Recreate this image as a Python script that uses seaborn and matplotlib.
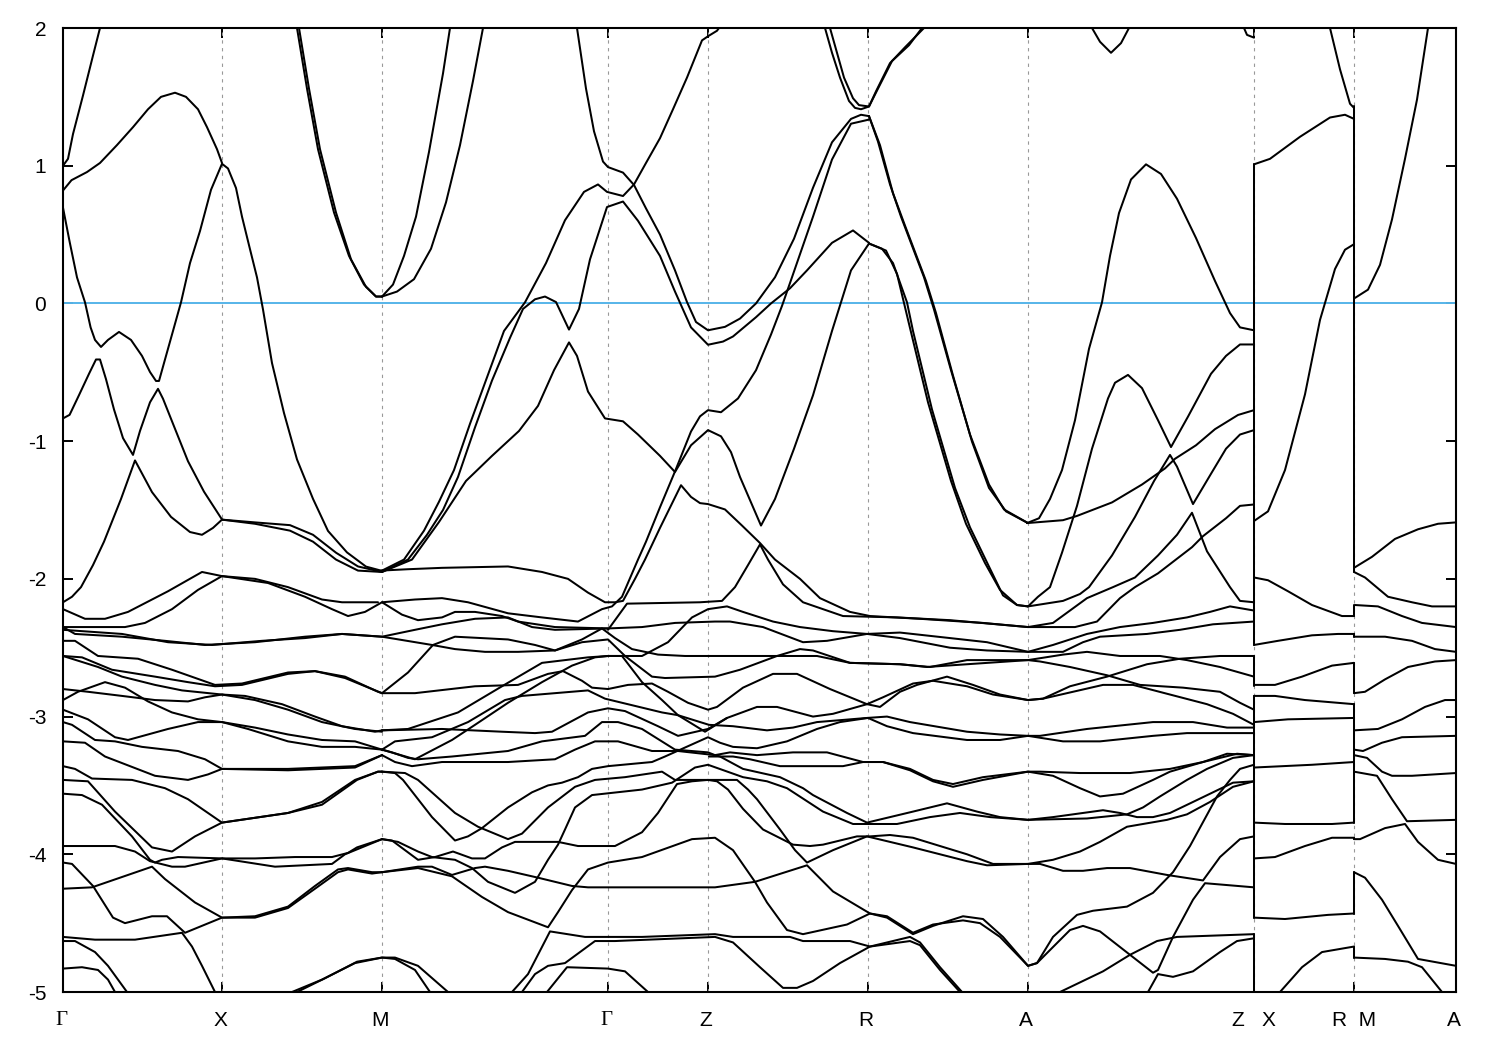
#!/usr/bin/env python
# band structure along Gamma-X-M-Gamma-Z-R-A-Z | X-R | M-A, energies

import pandas as pd
import seaborn as sns
import matplotlib.pyplot as plt
from matplotlib.transforms import ScaledTranslation

# high symmetry points on the k path
sym_k = [0, 1.59, 3.19, 5.45, 6.45, 8.05, 9.65, 11.91, 12.91, 13.93]
sym_labels = ['\u0393', 'X', 'M', '\u0393', 'Z', 'R', 'A', 'Z   X', 'R  M', 'A']
y_ticks = [2, 1, 0, -1, -2, -3, -4, -5]

# vertical jumps where the path is cut (Z|X and R|M)
zx_top = [1.01, -2.56, -2.85, -4.58]
zx_low = [-2.48, -2.78, -4.46, -5.0]
rm_top = [1.43, -2.19, -2.40, -2.61, -2.91, -3.88, -4.13, -4.67]
rm_low = [-1.95, -2.27, -2.42, -2.83, -3.77, -3.89, -4.43, -4.75]

# bands above the Fermi level and the steep ones
k01 = [0, .05, .10, .20, .30, .37]
e01 = [1.0, 1.05, 1.23, 1.51, 1.80, 2.0]
k02 = [0, .085, .24, .37, .54, .70, .85, .98, 1.12, 1.23, 1.35, 1.44, 1.54, 1.59]
e02 = [.82, .895, .954, 1.02, 1.15, 1.28, 1.41, 1.50, 1.53, 1.50, 1.41, 1.28, 1.12, 1.02]
k03 = [0, .066, .14, .22, .276, .32, .38, .45, .56, .68, .79, .87, .93, .96, 1.02, 1.10, 1.18, 1.27, 1.37, 1.48, 1.59, 1.65, 1.73, 1.79, 1.86, 1.94, 2.0, 2.09, 2.21, 2.34, 2.50, 2.65, 2.84, 3.03, 3.19]
e03 = [.695, .449, .189, .008, -.174, -.265, -.316, -.265, -.207, -.265, -.381, -.498, -.563, -.563, -.407, -.20, .008, .293, .526, .825, 1.014, .98, .838, .63, .423, .189, -.044, -.433, -.796, -1.133, -1.419, -1.652, -1.808, -1.911, -1.942]
k04 = [0, .066, .16, .26, .33, .37, .43, .51, .60, .70, .77, .87, .95, 1.00, 1.10, 1.25, 1.41, 1.59]
e04 = [-.835, -.809, -.666, -.511, -.407, -.407, -.55, -.77, -.978, -1.10, -.926, -.718, -.62, -.692, -.874, -1.146, -1.367, -1.569]
k05 = [0, .09, .18, .30, .41, .58, .72, .89, 1.08, 1.27, 1.39, 1.50, 1.59]
e05 = [-2.17, -2.13, -2.06, -1.90, -1.73, -1.42, -1.14, -1.37, -1.55, -1.66, -1.68, -1.63, -1.57]
k06 = [1.59, 1.92, 2.27, 2.50, 2.73, 2.95, 3.19]
e06 = [-1.57, -1.59, -1.61, -1.68, -1.81, -1.91, -1.95]
k07 = [1.59, 1.92, 2.27, 2.50, 2.73, 2.95, 3.19]
e07 = [-1.57, -1.60, -1.65, -1.73, -1.86, -1.94, -1.95]
k08 = [2.36, 2.46, 2.57, 2.73, 2.88, 3.03, 3.13, 3.19]
e08 = [2.0, 1.56, 1.12, .66, .32, .12, .05, .05]
k09 = [2.34, 2.44, 2.55, 2.71, 2.86, 3.01, 3.13, 3.19]
e09 = [2.0, 1.56, 1.12, .66, .345, .137, .05, .05]
k10 = [3.19, 3.30, 3.41, 3.53, 3.66, 3.80, 3.87]
e10 = [.05, .137, .345, .63, 1.10, 1.67, 2.0]
k11 = [3.19, 3.34, 3.51, 3.68, 3.83, 3.97, 4.10, 4.20]
e11 = [.05, .086, .176, .397, .734, 1.149, 1.616, 2.0]
k12 = [3.19, 3.45, 3.64, 3.80, 3.95, 4.12, 4.29, 4.47, 4.60, 4.72, 4.82, 4.93, 5.06, 5.16, 5.27, 5.44, 5.60, 5.75, 5.97, 6.12, 6.28, 6.45, 6.60, 6.70, 6.93, 7.08, 7.27, 7.44, 7.69, 7.90, 8.06]
e12 = [-1.95, -1.86, -1.68, -1.50, -1.26, -.90, -.56, -.25, -.04, .03, .05, .01, -.19, -.04, .32, .70, .74, .60, .345, .086, -.174, -.30, -.277, -.24, -.10, 0, .11, .24, .44, .53, .44]
k13 = [3.19, 3.41, 3.61, 3.76, 3.91, 4.07, 4.24, 4.41, 4.62, 4.83, 5.02, 5.21, 5.35, 5.44, 5.60, 5.71, 5.83, 5.97, 6.10, 6.24, 6.39, 6.45, 6.54, 6.56]
e13 = [-1.94, -1.86, -1.65, -1.44, -1.21, -.874, -.537, -.20, .008, .293, .604, .81, .864, .81, .78, .864, 1.02, 1.20, 1.41, 1.64, 1.91, 1.94, 1.98, 2.0]
k14 = [3.19, 3.49, 3.76, 4.03, 4.29, 4.56, 4.75, 4.91, 5.06, 5.14, 5.25, 5.42, 5.60, 5.75, 5.97, 6.12, 6.28, 6.45, 6.58, 6.68, 6.77, 6.98, 7.12, 7.31, 7.50, 7.69, 7.88, 8.06]
e14 = [-1.95, -1.86, -1.587, -1.289, -1.107, -.926, -.744, -.485, -.283, -.381, -.64, -.835, -.856, -.952, -1.107, -1.224, -1.03, -.92, -.965, -1.08, -1.26, -1.613, -1.42, -1.055, -.667, -.20, .24, .435]
k15 = [5.14, 5.23, 5.31, 5.40, 5.45, 5.60, 5.71, 5.83, 5.97, 6.12, 6.24, 6.33, 6.45, 6.62, 6.77, 6.93, 7.12, 7.31, 7.50, 7.69, 7.88, 7.98, 8.06]
e15 = [2.0, 1.56, 1.25, 1.03, .99, .95, .86, .69, .50, .24, .01, -.135, -.195, -.17, -.11, 0, .19, .47, .84, 1.17, 1.34, 1.37, 1.36]
k16 = [3.18, 3.45, 3.79, 4.45, 4.79, 5.05, 5.25, 5.42, 5.52, 5.60, 5.72, 5.82, 5.97, 6.18, 6.28, 6.37, 6.45, 6.62, 6.79, 6.97, 7.12, 7.37, 7.57, 7.87, 8.07, 8.57, 9.20, 9.65, 10.0, 10.12, 10.34, 10.57, 10.72, 10.95, 11.29, 11.40, 11.63, 11.77, 11.91]
e16 = [-1.94, -1.93, -1.92, -1.91, -1.95, -2.0, -2.10, -2.17, -2.17, -2.16, -2.0, -1.86, -1.63, -1.32, -1.405, -1.45, -1.457, -1.496, -1.613, -1.74, -1.86, -2.0, -2.14, -2.24, -2.27, -2.29, -2.32, -2.35, -2.35, -2.35, -2.31, -2.14, -2.06, -1.96, -1.77, -1.69, -1.56, -1.47, -1.46]
k17 = [3.19, 3.52, 3.79, 4.05, 4.45, 4.79, 5.15, 5.39, 5.49, 5.59, 5.75, 5.83, 5.97, 6.12, 6.28, 6.37, 6.45, 6.58, 6.75, 6.93, 7.08, 7.19, 7.29, 7.50, 7.69, 7.88, 8.06]
e17 = [-2.17, -2.15, -2.14, -2.17, -2.25, -2.28, -2.31, -2.22, -2.20, -2.13, -1.86, -1.73, -1.48, -1.22, -.93, -.82, -.775, -.79, -.69, -.485, -.226, -.018, .19, .63, 1.045, 1.305, 1.335]
k18 = [5.45, 5.64, 6.37, 6.59, 6.72, 6.85, 6.97, 7.05, 7.20, 7.40, 7.80, 8.34, 8.87, 9.65, 9.90, 10.24, 10.5, 10.72, 10.95, 11.14, 11.29, 11.44, 11.67, 11.77, 11.91]
e18 = [-2.37, -2.18, -2.17, -2.16, -2.06, -1.90, -1.75, -1.86, -2.04, -2.17, -2.27, -2.28, -2.30, -2.35, -2.32, -2.14, -2.06, -1.99, -1.83, -1.68, -1.52, -1.80, -2.06, -2.16, -2.17]
k19 = [8.06, 8.15, 8.27, 8.38, 8.61, 8.71, 8.88, 9.07, 9.26, 9.41, 9.65]
e19 = [1.36, 1.175, .864, .63, .19, -.044, -.485, -.952, -1.315, -1.496, -1.595]
k20 = [8.06, 8.17, 8.30, 8.42, 8.63, 8.73, 8.90, 9.09, 9.26, 9.43, 9.65]
e20 = [1.36, 1.149, .80, .565, .163, -.07, -.524, -1.004, -1.34, -1.51, -1.595]
k21 = [8.06, 8.23, 8.34, 8.46, 8.65, 8.88, 9.03, 9.22, 9.37, 9.54, 9.65]
e21 = [.435, .384, .215, -.148, -.718, -1.289, -1.60, -1.885, -2.08, -2.19, -2.20]
k22 = [8.06, 8.19, 8.30, 8.44, 8.50, 8.69, 8.92, 9.07, 9.26, 9.40, 9.54, 9.65]
e22 = [.435, .397, .293, .008, -.20, -.77, -1.34, -1.626, -1.911, -2.12, -2.19, -2.20]
k23 = [9.64, 9.76, 9.87, 9.99, 10.12, 10.26, 10.39, 10.47, 10.56, 10.68, 10.83, 10.98, 11.14, 11.33, 11.52, 11.67, 11.77, 11.91]
e23 = [-1.595, -1.56, -1.42, -1.21, -.848, -.33, .008, .345, .656, .90, 1.01, .94, .76, .475, .163, -.07, -.174, -.195]
k24 = [9.64, 10.0, 10.14, 10.49, 10.79, 11.02, 11.12, 11.33, 11.52, 11.75, 11.91]
e24 = [-1.595, -1.574, -1.543, -1.445, -1.315, -1.198, -1.128, -1.03, -.913, -.81, -.775]
k25 = [9.65, 9.75, 9.87, 9.99, 10.14, 10.29, 10.45, 10.52, 10.65, 10.79, 10.95, 11.08, 11.25, 11.48, 11.63, 11.77, 11.91]
e25 = [-2.20, -2.13, -2.06, -1.81, -1.47, -1.055, -.69, -.576, -.519, -.615, -.848, -1.043, -.822, -.511, -.381, -.298, -.298]
k26 = [9.65, 10.0, 10.17, 10.26, 10.49, 10.72, 10.91, 11.07, 11.14, 11.30, 11.48, 11.63, 11.77, 11.91]
e26 = [-2.20, -2.16, -2.11, -2.06, -1.83, -1.55, -1.29, -1.10, -1.185, -1.457, -1.237, -1.055, -.952, -.92]
k27 = [7.62, 7.69, 7.77, 7.86, 7.92, 7.98, 8.06, 8.13, 8.27, 8.42, 8.61]
e27 = [2.0, 1.82, 1.64, 1.47, 1.42, 1.41, 1.43, 1.54, 1.745, 1.86, 2.0]
k28 = [7.67, 7.74, 7.81, 7.90, 7.96, 8.06, 8.15, 8.29, 8.46, 8.59]
e28 = [2.0, 1.82, 1.64, 1.49, 1.44, 1.43, 1.56, 1.76, 1.875, 2.0]
k29 = [10.29, 10.37, 10.48, 10.58, 10.66]
e29 = [2.0, 1.90, 1.82, 1.89, 2.0]
k30 = [11.81, 11.84, 11.91]
e30 = [2.0, 1.95, 1.93]

# the crowded block between -2 and -5, Gamma-X-M part
k31 = [0, .22, .42, .65, 1.05, 1.39, 1.59, 1.92, 2.25, 2.59, 2.79, 3.15]
e31 = [-2.22, -2.29, -2.29, -2.24, -2.09, -1.95, -1.98, -2.0, -2.06, -2.15, -2.17, -2.17]
k32 = [0, .32, .62, .82, 1.09, 1.35, 1.59, 2.05, 2.42, 2.69, 2.85, 3.02, 3.19, 3.39, 3.55, 3.79, 3.92, 4.12, 4.39, 4.55, 4.92, 5.45]
e32 = [-2.35, -2.35, -2.35, -2.32, -2.22, -2.08, -1.98, -2.03, -2.13, -2.22, -2.27, -2.24, -2.17, -2.26, -2.30, -2.28, -2.24, -2.24, -2.27, -2.31, -2.35, -2.36]
k33 = [0, .12, .59, 1.02, 1.42, 1.92, 2.42, 2.79, 3.19, 3.69, 3.92, 4.22, 4.55, 4.92, 5.19, 5.45, 5.62, 5.89, 6.02, 6.52, 6.57, 6.77, 7.14, 7.37, 7.50, 7.87, 8.37, 8.64, 9.04, 9.65, 9.77, 10.07, 10.44, 10.77, 11.20, 11.57, 11.77, 11.91]
e33 = [-2.35, -2.40, -2.42, -2.45, -2.48, -2.46, -2.42, -2.40, -2.42, -2.48, -2.51, -2.53, -2.53, -2.52, -2.46, -2.44, -2.56, -2.71, -2.72, -2.71, -2.70, -2.66, -2.56, -2.51, -2.52, -2.61, -2.62, -2.64, -2.62, -2.59, -2.60, -2.64, -2.70, -2.77, -2.79, -2.82, -2.90, -2.95]
k34 = [0, .59, 1.05, 1.49, 1.99, 2.42, 2.79, 3.19, 3.52, 3.79, 4.12, 4.45, 4.69, 4.92, 5.45, 5.79, 6.12, 6.52, 6.67, 7.0, 7.40, 7.64, 8.04, 8.37, 8.87, 9.24, 9.65, 10.0, 10.20, 10.37, 10.84, 11.17, 11.50, 11.91]
e34 = [-2.37, -2.40, -2.46, -2.48, -2.45, -2.43, -2.40, -2.42, -2.37, -2.33, -2.29, -2.28, -2.35, -2.37, -2.36, -2.35, -2.32, -2.31, -2.31, -2.35, -2.46, -2.45, -2.40, -2.43, -2.50, -2.52, -2.53, -2.53, -2.46, -2.42, -2.40, -2.37, -2.33, -2.31]
k35 = [3.19, 3.45, 3.95, 4.39, 4.79, 5.25, 5.45, 5.59, 5.79, 6.05, 6.29, 6.45, 6.64, 6.80, 7.10, 7.37, 7.70, 8.04, 8.37, 8.87, 9.24, 9.65, 9.90, 10.24, 10.57, 10.90, 11.24, 11.47, 11.67, 11.91]
e35 = [-3.10, -3.09, -2.97, -2.78, -2.61, -2.57, -2.56, -2.56, -2.56, -2.46, -2.28, -2.22, -2.20, -2.24, -2.31, -2.35, -2.38, -2.40, -2.39, -2.43, -2.46, -2.53, -2.48, -2.40, -2.35, -2.32, -2.28, -2.24, -2.20, -2.23]
k36 = [3.19, 3.45, 3.70, 3.92, 4.45, 4.72, 4.92, 5.19, 5.39, 5.52, 5.69, 5.95, 6.22, 6.52, 7.04, 7.54, 7.87, 8.37, 8.67, 9.04, 9.65, 10.0, 10.24, 10.57, 10.97, 11.24, 11.57, 11.91]
e36 = [-2.83, -2.68, -2.48, -2.42, -2.44, -2.48, -2.52, -2.44, -2.36, -2.43, -2.51, -2.55, -2.56, -2.56, -2.56, -2.56, -2.61, -2.62, -2.64, -2.59, -2.59, -2.55, -2.53, -2.56, -2.56, -2.59, -2.64, -2.71]
k37 = [0, .12, .35, .75, 1.09, 1.52, 1.79, 2.25, 2.52, 2.82, 3.15, 3.19]
e37 = [-2.45, -2.45, -2.56, -2.58, -2.66, -2.77, -2.76, -2.68, -2.67, -2.71, -2.82, -2.83]
k38 = [3.19, 3.52, 4.12, 4.55, 4.85, 5.00, 5.19, 5.29, 5.45, 5.65, 5.89, 6.05, 6.25, 6.45, 6.54, 6.80, 7.10, 7.34, 7.67, 8.04, 8.17, 8.37, 8.54, 8.84, 9.10, 9.37, 9.65, 9.80, 10.40, 10.70, 11.07, 11.44, 11.70, 11.91]
e38 = [-2.83, -2.83, -2.78, -2.77, -2.69, -2.67, -2.74, -2.79, -2.80, -2.77, -2.76, -2.82, -2.90, -2.95, -2.93, -2.79, -2.69, -2.69, -2.80, -2.91, -2.93, -2.82, -2.77, -2.71, -2.77, -2.84, -2.88, -2.87, -2.77, -2.77, -2.84, -2.91, -2.98, -3.06]
k39 = [0, .19, .49, .92, 1.25, 1.52, 1.79, 2.25, 2.52, 2.82, 3.19]
e39 = [-2.56, -2.57, -2.66, -2.71, -2.75, -2.78, -2.77, -2.69, -2.67, -2.72, -2.83]
k40 = [0, .35, .59, .92, 1.19, 1.59, 1.82, 2.19, 2.52, 2.79, 3.12, 3.19]
e40 = [-2.56, -2.64, -2.71, -2.77, -2.81, -2.84, -2.85, -2.91, -3.0, -3.07, -3.11, -3.10]
k41 = [0, .25, .59, .92, 1.25, 1.42, 1.59, 1.92, 2.25, 2.59, 2.92, 3.19]
e41 = [-2.80, -2.82, -2.85, -2.88, -2.89, -2.86, -2.84, -2.88, -2.95, -3.04, -3.09, -3.11]
k42 = [0, .15, .42, .62, .85, 1.09, 1.35, 1.59, 1.92, 2.25, 2.59, 2.92, 3.19]
e42 = [-2.88, -2.82, -2.75, -2.79, -2.89, -2.97, -3.02, -3.04, -3.08, -3.13, -3.17, -3.18, -3.24]
k43 = [0, .25, .52, .65, 1.05, 1.35, 1.59, 1.85, 2.25, 2.59, 2.92, 3.19]
e43 = [-2.95, -3.02, -3.15, -3.17, -3.09, -3.04, -3.04, -3.09, -3.18, -3.22, -3.22, -3.24]
k44 = [0, .09, .32, .52, .79, 1.15, 1.42, 1.59, 2.25, 2.92, 3.19]
e44 = [-3.04, -3.06, -3.17, -3.18, -3.22, -3.25, -3.31, -3.38, -3.38, -3.36, -3.28]
k45 = [0, .22, .42, .92, 1.25, 1.45, 1.59, 2.25, 2.92, 3.19]
e45 = [-3.18, -3.19, -3.29, -3.43, -3.46, -3.42, -3.38, -3.39, -3.37, -3.28]
k46 = [0, .12, .29, .69, 1.02, 1.25, 1.59, 2.25, 2.59, 2.92, 3.15, 3.19]
e46 = [-3.36, -3.38, -3.45, -3.46, -3.52, -3.60, -3.77, -3.70, -3.62, -3.46, -3.40, -3.40]
k47 = [0, .25, .52, .89, 1.09, 1.32, 1.59, 2.25, 2.59, 2.94, 3.15, 3.19]
e47 = [-3.46, -3.47, -3.69, -3.95, -3.98, -3.87, -3.77, -3.70, -3.64, -3.46, -3.40, -3.40]
k48 = [0, .19, .39, .69, .87, .92, .99, 1.15, 1.59, 1.92, 2.32, 2.69, 2.85, 2.94, 3.19]
e48 = [-3.56, -3.57, -3.64, -3.87, -4.04, -4.06, -4.04, -4.02, -4.03, -4.03, -4.02, -4.02, -3.99, -3.95, -3.89]
k49 = [0, .52, .72, .87, 1.09, 1.22, 1.59, 2.12, 2.69, 2.82, 3.19]
e49 = [-3.94, -3.94, -3.98, -4.05, -4.09, -4.09, -4.03, -4.09, -4.07, -4.0, -3.89]
k50 = [0, .09, .30, .50, .62, .89, 1.04, 1.22, 1.59, 1.92, 2.25, 2.52, 2.75, 2.85, 3.09, 3.19]
e50 = [-4.06, -4.07, -4.23, -4.46, -4.50, -4.45, -4.45, -4.57, -4.46, -4.45, -4.38, -4.23, -4.11, -4.10, -4.13, -4.13]
k51 = [0, .29, .89, 1.02, 1.32, 1.59, 1.92, 2.25, 2.52, 2.75, 2.85, 3.09, 3.19]
e51 = [-4.25, -4.24, -4.09, -4.18, -4.35, -4.46, -4.46, -4.39, -4.25, -4.13, -4.11, -4.14, -4.13]
k52 = [0, .32, .72, 1.19, 1.29, 1.39, 1.52]
e52 = [-4.60, -4.62, -4.62, -4.57, -4.67, -4.81, -5.0]
k53 = [0, .12, .32, .45, .64]
e53 = [-4.63, -4.63, -4.71, -4.81, -5.0]
k54 = [0, .19, .35, .45, .52]
e54 = [-4.83, -4.82, -4.84, -4.91, -5.0]
k55 = [2.29, 2.59, 2.92, 3.19, 3.32, 3.52, 3.67]
e55 = [-5.0, -4.91, -4.79, -4.75, -4.76, -4.84, -5.0]
k56 = [2.34, 2.62, 2.94, 3.19, 3.32, 3.55, 3.85]
e56 = [-5.0, -4.90, -4.78, -4.75, -4.75, -4.81, -5.0]

# crowded block, M onwards
k57 = [3.19, 3.32, 3.69, 4.05, 4.42, 4.59, 5.25, 5.42, 5.99, 6.15, 6.46, 6.70, 7.04, 7.30, 7.54, 8.04, 8.24, 8.47, 9.04, 9.37, 9.65, 9.77, 10.24, 10.90, 11.30, 11.64, 11.91]
e57 = [-3.24, -3.18, -3.15, -3.04, -2.88, -2.85, -2.81, -2.87, -2.97, -2.99, -3.06, -3.07, -3.10, -3.08, -3.04, -3.01, -3.0, -3.04, -3.11, -3.13, -3.14, -3.14, -3.09, -3.04, -3.04, -3.08, -3.08]
k58 = [3.19, 3.52, 3.89, 4.12, 4.45, 4.79, 5.09, 5.32, 5.45, 5.59, 5.79, 5.99, 6.15, 6.42, 6.64, 6.94, 7.14, 7.50, 7.70, 8.04, 8.20, 8.50, 8.70, 9.04, 9.30, 9.65, 9.80, 10.07, 10.44, 10.84, 11.17, 11.57, 11.91]
e58 = [-3.24, -3.31, -3.17, -3.06, -2.90, -2.75, -2.63, -2.57, -2.56, -2.56, -2.75, -2.88, -2.99, -3.11, -3.01, -2.93, -2.93, -3.0, -2.98, -2.91, -2.86, -2.76, -2.74, -2.78, -2.84, -2.88, -2.87, -2.78, -2.71, -2.62, -2.58, -2.56, -2.56]
k59 = [3.19, 3.79, 4.39, 4.72, 4.89, 5.25, 5.45, 5.62, 5.95, 6.15, 6.45, 6.64]
e59 = [-3.10, -3.09, -3.11, -3.12, -3.11, -2.97, -2.94, -2.96, -3.07, -3.14, -3.09, -3.01]
k60 = [3.19, 3.29, 3.45, 3.55, 3.89, 4.45, 4.79, 5.22, 5.39, 5.55, 5.79, 6.12, 6.45, 6.52, 6.67, 6.94, 7.30, 7.64, 8.0, 8.20, 8.47, 8.70, 8.90, 9.20, 9.65, 9.77, 10.17, 10.67, 11.07, 11.40, 11.64, 11.91]
e60 = [-3.24, -3.26, -3.30, -3.31, -3.29, -3.25, -3.18, -3.14, -3.04, -3.04, -3.09, -3.24, -3.26, -3.28, -3.26, -3.28, -3.26, -3.26, -3.33, -3.33, -3.38, -3.46, -3.49, -3.44, -3.40, -3.40, -3.41, -3.41, -3.38, -3.33, -3.27, -3.28]
k61 = [3.19, 3.32, 3.49, 3.79, 4.45, 4.92, 5.12, 5.32, 5.55, 5.89, 6.15, 6.52, 6.57, 6.80, 7.17, 7.40, 7.50, 7.84, 8.04, 8.50, 8.84, 9.14, 9.37, 9.65, 9.90, 10.20, 10.40, 10.57, 10.74, 10.90, 11.07, 11.30, 11.50, 11.70, 11.91]
e61 = [-3.28, -3.33, -3.36, -3.33, -3.33, -3.31, -3.24, -3.18, -3.18, -3.25, -3.25, -3.28, -3.29, -3.38, -3.44, -3.52, -3.57, -3.70, -3.77, -3.69, -3.63, -3.69, -3.73, -3.75, -3.73, -3.70, -3.68, -3.70, -3.73, -3.73, -3.70, -3.62, -3.55, -3.48, -3.47]
k62 = [3.19, 3.32, 3.40, 3.69, 3.92, 4.05, 4.19, 4.45, 4.69, 4.85, 4.99, 5.15, 5.29, 5.45, 5.89, 6.02, 6.45, 6.57, 6.70, 6.94, 7.24, 7.54, 7.77, 8.05, 8.24, 8.50, 9.04, 9.37, 9.65, 10.0, 10.37, 10.90, 11.24, 11.91]
e62 = [-3.40, -3.41, -3.46, -3.73, -3.90, -3.87, -3.81, -3.66, -3.55, -3.50, -3.48, -3.44, -3.38, -3.36, -3.33, -3.29, -3.15, -3.19, -3.22, -3.23, -3.18, -3.09, -3.04, -3.01, -3.07, -3.12, -3.17, -3.17, -3.14, -3.18, -3.18, -3.14, -3.12, -3.12]
k63 = [3.19, 3.42, 3.55, 3.92, 4.15, 4.45, 4.59, 4.85, 5.12, 5.32, 5.62, 5.99, 6.12, 6.45, 6.54, 6.65, 6.80, 7.0, 7.30, 7.47, 7.60, 7.94, 8.07, 8.27, 8.50, 9.04, 9.30, 9.65, 9.77, 10.0, 10.20, 10.44, 10.67, 11.04, 11.40, 11.57, 11.77, 11.91]
e63 = [-3.40, -3.41, -3.46, -3.70, -3.80, -3.89, -3.85, -3.66, -3.51, -3.46, -3.44, -3.40, -3.46, -3.46, -3.47, -3.53, -3.67, -3.82, -3.93, -3.94, -3.93, -3.87, -3.87, -3.86, -3.88, -4.0, -4.07, -4.07, -4.07, -4.12, -4.12, -4.10, -4.10, -4.15, -4.19, -4.02, -3.89, -3.87]
k64 = [3.19, 3.35, 3.55, 3.69, 3.92, 4.09, 4.25, 4.52, 4.72, 4.85, 4.95, 5.02, 5.12, 5.29, 5.79, 6.09, 6.32, 6.45, 6.80, 7.04, 7.24, 7.60, 7.90, 8.34, 8.67, 8.97, 9.27, 9.65, 10.24, 10.64, 10.80, 10.97, 11.24, 11.44, 11.70, 11.91]
e64 = [-3.89, -3.91, -3.98, -4.02, -4.04, -4.10, -4.20, -4.28, -4.20, -4.04, -3.93, -3.82, -3.66, -3.57, -3.53, -3.48, -3.37, -3.35, -3.44, -3.47, -3.52, -3.69, -3.78, -3.78, -3.73, -3.70, -3.73, -3.75, -3.74, -3.71, -3.66, -3.58, -3.46, -3.38, -3.30, -3.28]
k65 = [3.19, 3.29, 3.55, 3.72, 3.90, 4.09, 4.22, 4.39, 4.52, 4.95, 5.15, 5.52, 5.79, 5.95, 6.14, 6.29, 6.45, 6.74, 6.85, 6.94, 7.17, 7.32, 7.44, 7.70, 8.04, 8.50, 9.04, 9.24, 9.65, 9.90, 10.17, 10.37, 10.64, 11.04, 11.24, 11.47, 11.70, 11.91]
e65 = [-3.89, -3.90, -4.04, -4.02, -3.98, -4.03, -4.03, -3.95, -3.91, -3.91, -3.94, -3.94, -3.84, -3.70, -3.49, -3.47, -3.46, -3.46, -3.53, -3.60, -3.82, -3.97, -4.06, -3.97, -3.87, -3.95, -4.05, -4.08, -4.07, -4.04, -3.98, -3.91, -3.80, -3.75, -3.71, -3.62, -3.51, -3.47]
k66 = [6.46, 6.70, 6.87, 7.17, 7.54, 7.80, 8.0, 8.20, 8.47, 8.70, 8.90, 9.20, 9.65, 9.90, 10.17, 10.37, 10.60, 10.90, 11.07, 11.40, 11.74, 11.91]
e66 = [-3.29, -3.29, -3.31, -3.36, -3.36, -3.36, -3.33, -3.33, -3.39, -3.47, -3.51, -3.46, -3.40, -3.43, -3.52, -3.58, -3.56, -3.46, -3.40, -3.33, -3.27, -3.28]
k67 = [3.19, 3.55, 3.69, 3.89, 4.12, 4.22, 4.45, 4.75, 5.09, 5.25, 5.95, 6.52, 6.92, 7.44, 7.70, 8.07, 8.24, 8.50, 8.70, 9.0, 9.20, 9.40, 9.65, 9.74, 10.07, 10.20, 10.37, 10.67, 10.90, 10.95, 11.10, 11.30, 11.42, 11.91]
e67 = [-4.13, -4.09, -4.09, -4.15, -4.10, -4.09, -4.12, -4.17, -4.23, -4.24, -4.24, -4.24, -4.20, -4.08, -4.27, -4.43, -4.46, -4.58, -4.52, -4.45, -4.47, -4.60, -4.81, -4.79, -4.55, -4.52, -4.56, -4.73, -4.86, -4.84, -4.60, -4.33, -4.21, -4.24]
k68 = [3.19, 3.55, 3.89, 4.19, 4.45, 4.85, 4.95, 5.09, 5.25, 5.45, 5.79, 6.29, 6.52, 6.70, 6.92, 7.04, 7.24, 7.40, 7.84, 8.07, 8.24, 8.50, 8.70, 9.0, 9.17, 9.37, 9.65, 9.74, 9.90, 10.14, 10.30, 10.64, 10.90, 11.10, 11.27, 11.54, 11.67, 11.77, 11.91]
e68 = [-4.13, -4.10, -4.16, -4.31, -4.42, -4.53, -4.42, -4.26, -4.11, -4.06, -4.02, -3.89, -3.88, -3.97, -4.20, -4.35, -4.55, -4.58, -4.51, -4.43, -4.45, -4.57, -4.51, -4.48, -4.50, -4.60, -4.81, -4.79, -4.60, -4.44, -4.41, -4.38, -4.28, -4.13, -3.94, -3.58, -3.46, -3.38, -3.35]
k69 = [4.49, 4.65, 4.87, 5.22, 5.79, 6.52, 6.70, 7.27, 7.40, 7.87, 8.07, 8.47, 8.57, 8.77, 8.99]
e69 = [-5.0, -4.87, -4.56, -4.60, -4.60, -4.58, -4.60, -4.60, -4.63, -4.63, -4.67, -4.60, -4.64, -4.82, -5.0]
k70 = [4.59, 4.72, 4.85, 5.02, 5.32, 5.52, 6.52, 6.70, 6.97, 7.20, 7.34, 7.50, 7.77, 8.07, 8.47, 8.57, 8.77, 8.97]
e70 = [-5.0, -4.87, -4.81, -4.79, -4.63, -4.63, -4.60, -4.64, -4.82, -4.97, -4.97, -4.92, -4.79, -4.67, -4.63, -4.66, -4.84, -5.0]
k71 = [4.84, 5.04, 5.45, 5.62, 5.85]
e71 = [-5.0, -4.82, -4.83, -4.85, -5.0]
k72 = [9.97, 10.40, 10.67, 10.94, 11.14, 11.91]
e72 = [-5.0, -4.85, -4.73, -4.63, -4.60, -4.58]
k73 = [10.85, 10.95, 11.10, 11.30, 11.57, 11.74, 11.91]
e73 = [-5.0, -4.87, -4.89, -4.85, -4.71, -4.63, -4.61]

# X-R piece
k74 = [11.91, 12.07, 12.37, 12.67, 12.82, 12.91]
e74 = [1.01, 1.05, 1.21, 1.35, 1.37, 1.34]
k75 = [11.91, 12.05, 12.22, 12.42, 12.57, 12.72, 12.82, 12.91]
e75 = [-1.58, -1.51, -1.21, -.66, -.12, .25, .39, .43]
k76 = [12.67, 12.77, 12.87, 12.91]
e76 = [2.0, 1.70, 1.45, 1.42]
k77 = [11.91, 12.05, 12.25, 12.49, 12.79, 12.91]
e77 = [-1.99, -2.01, -2.09, -2.19, -2.27, -2.27]
k78 = [11.91, 12.15, 12.49, 12.75, 12.91]
e78 = [-2.48, -2.45, -2.41, -2.40, -2.40]
k79 = [11.91, 12.12, 12.39, 12.69, 12.91]
e79 = [-2.77, -2.77, -2.71, -2.63, -2.61]
k80 = [11.91, 12.12, 12.42, 12.91]
e80 = [-2.85, -2.85, -2.88, -2.91]
k81 = [11.91, 12.25, 12.91]
e81 = [-3.04, -3.02, -3.01]
k82 = [11.91, 12.49, 12.91]
e82 = [-3.37, -3.35, -3.33]
k83 = [11.91, 12.22, 12.69, 12.91]
e83 = [-3.77, -3.78, -3.78, -3.77]
k84 = [11.91, 12.12, 12.42, 12.69, 12.91]
e84 = [-4.03, -4.02, -3.94, -3.88, -3.88]
k85 = [11.91, 12.22, 12.65, 12.91]
e85 = [-4.46, -4.47, -4.44, -4.43]
k86 = [12.17, 12.39, 12.59, 12.91]
e86 = [-5.0, -4.82, -4.71, -4.67]

# M-A piece
k87 = [12.92, 13.05, 13.17, 13.29, 13.42, 13.54, 13.65]
e87 = [.04, .10, .28, .61, 1.05, 1.48, 2.0]
k88 = [12.91, 13.09, 13.32, 13.55, 13.75, 13.93]
e88 = [-1.92, -1.84, -1.71, -1.64, -1.60, -1.59]
k89 = [12.91, 13.02, 13.25, 13.49, 13.69, 13.93]
e89 = [-1.95, -1.99, -2.13, -2.17, -2.20, -2.20]
k90 = [12.92, 13.15, 13.39, 13.59, 13.93]
e90 = [-2.19, -2.20, -2.27, -2.32, -2.35]
k91 = [12.91, 13.22, 13.49, 13.72, 13.93]
e91 = [-2.42, -2.42, -2.45, -2.51, -2.53]
k92 = [12.91, 13.02, 13.22, 13.45, 13.72, 13.93]
e92 = [-2.83, -2.82, -2.73, -2.64, -2.60, -2.59]
k93 = [12.91, 13.15, 13.39, 13.62, 13.82, 13.93]
e93 = [-3.10, -3.09, -3.02, -2.93, -2.88, -2.88]
k94 = [12.91, 13.0, 13.19, 13.39, 13.93]
e94 = [-3.24, -3.25, -3.19, -3.15, -3.14]
k95 = [12.91, 13.04, 13.19, 13.29, 13.49, 13.93]
e95 = [-3.28, -3.30, -3.40, -3.43, -3.43, -3.41]
k96 = [12.91, 13.14, 13.29, 13.44, 13.93]
e96 = [-3.40, -3.43, -3.60, -3.76, -3.75]
k97 = [12.91, 12.97, 13.22, 13.42, 13.55, 13.75, 13.93]
e97 = [-3.89, -3.89, -3.81, -3.78, -3.91, -4.04, -4.07]
k98 = [12.91, 13.02, 13.19, 13.35, 13.55, 13.93]
e98 = [-4.13, -4.17, -4.33, -4.52, -4.76, -4.81]
k99 = [12.91, 13.22, 13.45, 13.59, 13.79]
e99 = [-4.75, -4.76, -4.78, -4.82, -5.0]

# collect everything in long form
rows = []
bad = []
for i in range(1, 100):
    ks, es = globals()[f"k{i:02d}"], globals()[f"e{i:02d}"]
    if len(ks) != len(es):
        bad.append((i, len(ks), len(es)))
        continue
    rows.append(pd.DataFrame({"k": ks, "E": es, "band": f"b{i}"}))
if bad:
    raise ValueError(f"length mismatch: {bad}")
for j, (top, low) in enumerate(zip(zx_top, zx_low)):
    rows.append(pd.DataFrame({"k": [sym_k[7]] * 2, "E": [top, low], "band": f"zx{j}"}))
for j, (top, low) in enumerate(zip(rm_top, rm_low)):
    rows.append(pd.DataFrame({"k": [sym_k[8]] * 2, "E": [top, low], "band": f"rm{j}"}))
df = pd.concat(rows, ignore_index=True)

sns.set_theme(style="ticks")
plt.rcParams["font.family"] = ["Liberation Sans", "DejaVu Sans"]
plt.rcParams["axes.unicode_minus"] = False

fig = plt.figure(figsize=(15, 10.5), dpi=100)
ax = fig.add_axes([63 / 1500, 1 - 992 / 1050, (1456 - 63) / 1500, (992 - 28) / 1050])

for x in sym_k[1:-1]:
    ax.axvline(x, color="#999999", lw=0.8, ls=(0, (3, 4)), zorder=1)
ax.axhline(0, color="#56b4e9", lw=1.4, zorder=1)

sns.lineplot(data=df, x="k", y="E", units="band", estimator=None, sort=False,
             color="black", linewidth=1.45, legend=False, ax=ax, zorder=2)

ax.set_xlim(sym_k[0], sym_k[-1])
ax.set_ylim(-5, 2)
ax.set_xlabel("")
ax.set_ylabel("")
ax.set_yticks(y_ticks)
ax.set_xticks(sym_k)
ax.set_xticklabels(sym_labels)
ax.tick_params(direction="in", length=7.5, width=1.4, top=True, right=True, labelsize=15, colors="black")
ax.tick_params(axis="x", pad=14)
ax.tick_params(axis="y", pad=12)
nudge = ScaledTranslation(-2 / 100, 0, fig.dpi_scale_trans)
for lab in ax.get_xticklabels():
    if lab.get_text() == '\u0393':
        lab.set_family(["Liberation Serif", "DejaVu Serif"])
    if len(lab.get_text()) == 1:
        lab.set_transform(lab.get_transform() + nudge)
for side in ax.spines.values():
    side.set_visible(True)
    side.set_linewidth(1.5)
    side.set_color("black")
    side.set_zorder(5)

fig.savefig("out.png", dpi=100)
